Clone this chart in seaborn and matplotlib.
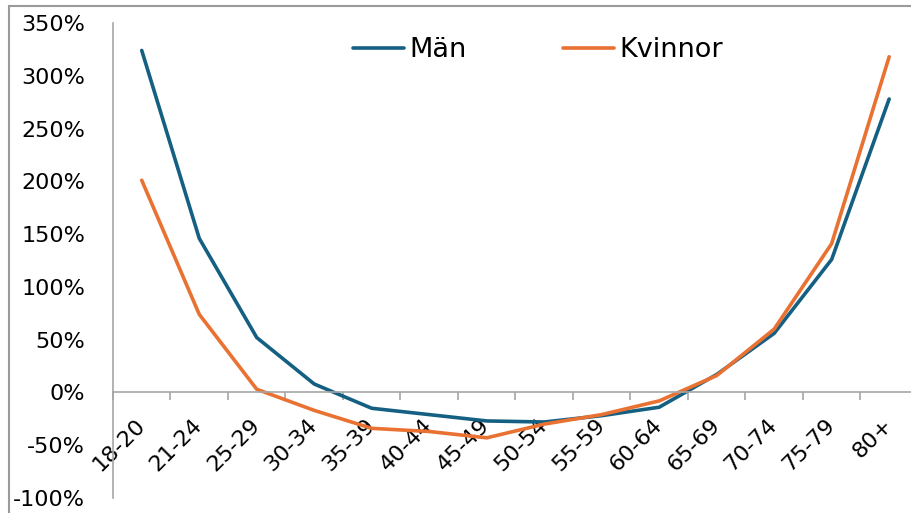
import matplotlib
matplotlib.use("Agg")
import matplotlib.pyplot as plt
import matplotlib.patches as patches
from matplotlib.ticker import FuncFormatter, FixedLocator
import pandas as pd
import seaborn as sns

age_groups = ["18-20", "21-24", "25-29", "30-34", "35-39", "40-44", "45-49",
              "50-54", "55-59", "60-64", "65-69", "70-74", "75-79", "80+"]
man = [324, 146, 52, 8, -15, -21, -27, -28, -22, -14, 17, 56, 126, 278]
kvinnor = [201, 74, 3, -17, -34, -37, -43, -30, -21, -8, 16, 60, 141, 318]
y_ticks = [-100, -50, 0, 50, 100, 150, 200, 250, 300, 350]

df = pd.DataFrame({
    "grupp": age_groups * 2,
    "x": list(range(len(age_groups))) * 2,
    "varde": man + kvinnor,
    "kon": ["Män"] * len(man) + ["Kvinnor"] * len(kvinnor),
})

sns.set_style("white")
plt.rcParams["font.family"] = ["DejaVu Sans"]
plt.rcParams["text.color"] = "black"
plt.rcParams["xtick.color"] = "black"
plt.rcParams["ytick.color"] = "black"

fig = plt.figure(figsize=(9.11, 5.13), dpi=100)
ax = fig.add_axes([113 / 911, 15 / 513, 1 - 113 / 911, 475 / 513])

sns.lineplot(data=df, x="x", y="varde", hue="kon",
             palette={"Män": "#156082", "Kvinnor": "#E97132"},
             linewidth=2.6, ax=ax, legend=False)

ax.set_xlim(-0.5, 13.38)
ax.set_ylim(-100, 350)

gray = "#A6A6A6"
for s in ["top", "right"]:
    ax.spines[s].set_visible(False)
ax.spines["bottom"].set_position(("data", 0))
ax.spines["bottom"].set_color(gray)
ax.spines["bottom"].set_linewidth(1.2)
ax.spines["left"].set_color(gray)
ax.spines["left"].set_linewidth(1.2)

ax.set_xticks(range(len(age_groups)))
ax.set_xticklabels(age_groups, rotation=45, ha="right", va="center",
                   rotation_mode="anchor", fontsize=16)
ax.xaxis.set_minor_locator(FixedLocator([i - 0.5 for i in range(len(age_groups) + 1)]))
ax.tick_params(axis="x", which="major", bottom=True, length=0, pad=21)
ax.tick_params(axis="x", which="minor", bottom=True, length=6, width=1.2,
               color=gray, direction="out")

ax.set_yticks(y_ticks)
ax.yaxis.set_major_formatter(FuncFormatter(lambda v, p: f"{v:.0f}%"))
ax.tick_params(axis="y", length=0, pad=20, labelsize=16)
ax.set_xlabel("")
ax.set_ylabel("")

handles = [plt.Line2D([], [], color="#156082", lw=2.6),
           plt.Line2D([], [], color="#E97132", lw=2.6)]
fig.legend(handles, ["Män", "Kvinnor"], loc="center", ncol=2, frameon=False,
           bbox_to_anchor=(538 / 911, 1 - 50 / 513), fontsize=19.5,
           handlelength=1.9, handletextpad=0.2, columnspacing=3.55)

# ram runt diagrammet
fig.patches.append(patches.Rectangle((9 / 911, -0.1), 1.1, 1.1 - 6 / 513,
                                     transform=fig.transFigure, fill=False,
                                     edgecolor="#9A9A9A", linewidth=1.5))

fig.savefig("out.png", dpi=100)
